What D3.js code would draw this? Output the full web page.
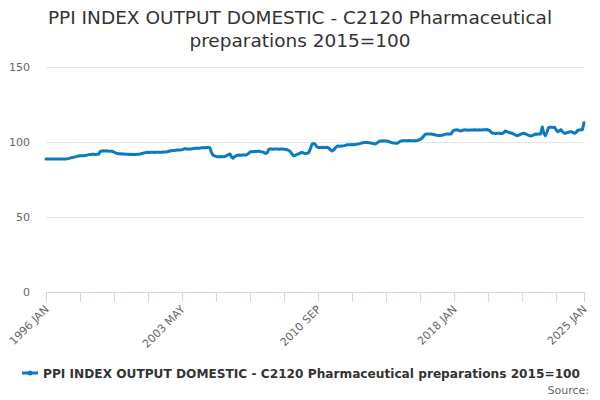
<!DOCTYPE html>
<html><head><meta charset="utf-8">
<script src="https://cdn.jsdelivr.net/npm/d3@7/dist/d3.min.js"></script>
<style>
body{margin:0;background:#fff;}
svg{font-family:"DejaVu Sans",sans-serif;}
</style></head>
<body><svg id="c" width="600" height="400"></svg>
<script>
const title = ["PPI INDEX OUTPUT DOMESTIC - C2120 Pharmaceutical", "preparations 2015=100"];
const seriesName = "PPI INDEX OUTPUT DOMESTIC - C2120 Pharmaceutical preparations 2015=100";
const startYear = 1996;
const monthNames = ["JAN","FEB","MAR","APR","MAY","JUN","JUL","AUG","SEP","OCT","NOV","DEC"];
const yTicks = [0, 50, 100, 150];
const xLabelCategories = ["1996 JAN", "2003 MAY", "2010 SEP", "2018 JAN", "2025 JAN"];
const values = [
 88.6, 88.6, 88.7, 88.7, 88.7, 88.6, 88.6, 88.7, 88.7, 88.6, 88.6, 88.6,
 88.6, 88.7, 88.9, 89.1, 89.4, 89.7, 89.9, 90.1, 90.4, 90.7, 90.8, 90.8,
 90.9, 91.0, 91.1, 91.4, 91.6, 91.7, 91.8, 91.8, 91.7, 91.8, 91.8, 93.6,
 94.0, 94.1, 94.0, 94.1, 94.0, 93.9, 93.9, 93.8, 93.3, 92.7, 92.3, 92.2,
 92.1, 92.0, 92.1, 91.9, 91.8, 91.8, 91.7, 91.8, 91.7, 91.6, 91.7, 91.8,
 91.8, 92.0, 92.3, 92.6, 92.9, 93.0, 93.1, 93.0, 93.1, 93.1, 93.0, 93.1,
 93.1, 93.2, 93.1, 93.2, 93.3, 93.3, 93.4, 93.7, 94.0, 94.2, 94.4, 94.4,
 94.5, 94.6, 94.6, 94.7, 94.9, 95.2, 95.6, 95.2, 95.3, 95.4, 95.3, 95.6,
 95.7, 95.8, 95.8, 95.9, 96.0, 96.1, 96.1, 96.2, 96.3, 96.3, 96.2, 93.0,
 91.3, 90.8, 90.4, 90.2, 90.2, 90.3, 90.1, 90.2, 90.4, 91.0, 91.6, 92.0,
 90.0, 89.2, 90.2, 90.8, 91.2, 91.3, 91.2, 91.4, 91.3, 91.2, 91.6, 92.4,
 93.3, 93.6, 93.5, 93.7, 93.6, 93.9, 93.8, 93.5, 93.4, 93.0, 92.4, 92.6,
 95.0, 95.3, 95.3, 95.2, 95.3, 95.4, 95.3, 95.2, 95.3, 95.4, 95.2, 95.0,
 94.8, 94.4, 93.6, 92.2, 90.9, 91.0, 91.6, 92.0, 92.3, 93.0, 92.8, 92.5,
 92.4, 92.5, 92.9, 95.5, 98.4, 99.0, 98.6, 97.0, 96.4, 96.3, 96.4, 96.5,
 96.4, 96.3, 96.5, 95.8, 94.8, 94.0, 94.5, 95.8, 97.0, 97.3, 97.2, 97.3,
 97.4, 97.6, 97.9, 98.2, 98.1, 98.2, 98.3, 98.2, 98.4, 98.5, 98.6, 98.9,
 99.3, 99.5, 99.6, 99.7, 99.6, 99.5, 99.4, 99.1, 98.8, 98.7, 99.2, 100.1,
 100.6, 100.7, 100.8, 100.6, 100.7, 100.5, 100.2, 99.8, 99.5, 99.3, 99.2, 99.1,
 99.6, 100.4, 100.8, 100.9, 100.9, 100.8, 100.9, 101.0, 100.9, 100.8, 100.9, 100.9,
 101.0, 101.3, 101.8, 102.4, 103.5, 104.9, 105.3, 105.4, 105.3, 105.3, 105.2, 105.0,
 104.7, 104.4, 104.3, 104.4, 104.5, 104.7, 105.1, 105.3, 105.3, 105.4, 105.4, 107.0,
 107.9, 108.0, 108.1, 107.8, 107.3, 107.6, 108.0, 108.1, 108.0, 107.9, 108.0, 108.0,
 108.0, 108.1, 108.0, 108.0, 108.1, 108.0, 108.0, 108.2, 108.1, 108.3, 108.0, 107.6,
 106.5, 105.9, 105.8, 105.7, 105.9, 105.8, 105.7, 105.6, 106.2, 107.3, 107.0, 106.5,
 106.2, 106.0, 105.6, 105.0, 104.5, 104.2, 104.6, 105.2, 105.6, 105.8, 105.5, 105.0,
 104.5, 104.1, 104.0, 104.5, 105.0, 105.3, 105.2, 105.4, 105.3, 110.0, 106.0, 104.2,
 106.5, 109.5, 109.8, 109.9, 109.6, 109.8, 108.0, 106.9, 107.4, 108.2, 107.0, 106.0,
 105.8, 106.3, 106.5, 106.8, 106.9, 106.2, 105.8, 106.5, 107.8, 108.0, 108.1, 108.2,
 112.9
];
const categories = values.map((v, i) => (startYear + Math.floor(i / 12)) + " " + monthNames[i % 12]);
const data = categories.map((c, i) => ({c, v: values[i]}));

const svg = d3.select("#c");
const mLeft = 46, mRight = 584, mTop = 67, mBottom = 292;

const x = d3.scalePoint().domain(categories).range([mLeft, mRight]);
const y = d3.scaleLinear().domain([0, 150]).range([mBottom, mTop]);

// title
svg.append("text").attr("x", 300).attr("text-anchor", "middle").attr("fill", "#333")
  .style("font-size", "18.5px")
  .selectAll("tspan").data(title).join("tspan")
  .attr("x", 300).attr("y", (d, i) => 24 + i * 23).text(d => d);

// grid + y labels
const yAxis = d3.axisLeft(y).tickValues(yTicks).tickSize(-(mRight - mLeft)).tickPadding(16);
const gy = svg.append("g").attr("transform", `translate(${mLeft},0)`).call(yAxis);
gy.select(".domain").remove();
gy.selectAll(".tick line").attr("stroke", "#e6e6e6");
gy.selectAll(".tick text").attr("fill", "#666").style("font-size", "11px")
  .style("font-family", "DejaVu Sans, sans-serif");

// x axis
const tickCats = categories.filter((c, i) => i % 22 === 0).concat([categories[categories.length - 1]]);
const xAxis = d3.axisBottom(x).tickValues(tickCats).tickSize(10).tickSizeOuter(0)
  .tickFormat(d => xLabelCategories.includes(d) ? d : "");
const gx = svg.append("g").attr("transform", `translate(0,${mBottom})`).call(xAxis);
gx.select(".domain").attr("stroke", "#ccd6eb");
gx.selectAll(".tick line").attr("stroke", "#ccd6eb");
gx.selectAll(".tick text").attr("fill", "#666").style("font-size", "11px")
  .style("font-family", "DejaVu Sans, sans-serif")
  .attr("text-anchor", "end").attr("dy", null).attr("y", 0)
  .attr("transform", "translate(3,18) rotate(-45)");

// line
const line = d3.line().x(d => x(d.c)).y(d => y(d.v));
svg.append("path").datum(data).attr("d", line).attr("fill", "none")
  .attr("stroke", "#0a7bc2").attr("stroke-width", 3).attr("stroke-linejoin", "round").attr("stroke-linecap", "round");

// legend
const lg = svg.append("g").attr("transform", "translate(22,373)");
lg.append("line").attr("x1", 0).attr("x2", 16).attr("y1", 0).attr("y2", 0)
  .attr("stroke", "#0a7bc2").attr("stroke-width", 3);
lg.append("circle").attr("cx", 8).attr("cy", 0).attr("r", 2.5).attr("fill", "#0a7bc2");
lg.append("text").attr("x", 21).attr("y", 5).attr("fill", "#333")
  .style("font-size", "12.2px").style("font-weight", "bold")
  .attr("textLength", 537).attr("lengthAdjust", "spacingAndGlyphs").text(seriesName);

svg.append("text").attr("x", 589).attr("y", 394).attr("text-anchor", "end")
  .attr("fill", "#666").style("font-size", "11px").text("Source:");
</script></body></html>
